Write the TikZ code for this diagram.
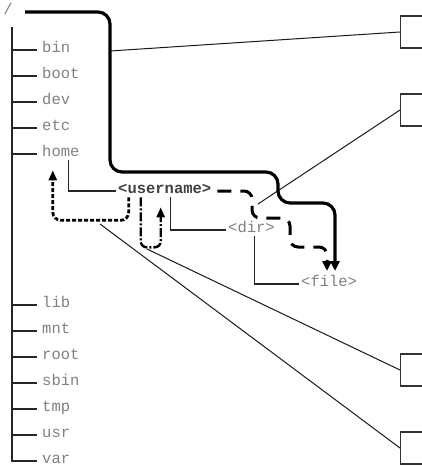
\documentclass[tikz,border=0pt]{standalone}
\usepackage{fontspec}
\newfontfamily\treefont{Liberation Mono}
\usetikzlibrary{positioning, calc, arrows.meta}
\tikzset{
  trunk/.style={draw=black!85, line width=1.8pt},
  twig/.style={draw=black!85, line width=1.3pt},
  entry/.style={font=\treefont\fontsize{15.5}{16}\selectfont, text=black!50, anchor=west, inner sep=2pt, text height=0.62em, text depth=0.2em},
  abspath/.style={-{Triangle[length=10pt, width=9pt]}, line width=3.2pt, rounded corners=12pt},
  relpath/.style={-{Triangle[length=10pt, width=9pt]}, line width=3pt, dash pattern=on 14pt off 9pt, rounded corners=8pt},
  uppath/.style={-{Triangle[length=10pt, width=8pt]}, line width=2.8pt, dash pattern=on 4pt off 2pt, rounded corners=8pt},
  herepath/.style={-{Triangle[length=10pt, width=8pt]}, line width=2.4pt, dash pattern=on 9pt off 2pt on 2pt off 2pt, rounded corners=6pt},
  callout/.style={draw=black!90, line width=1pt},
  pane/.style={draw=black!80, line width=1.3pt, minimum width=40pt, minimum height=32pt, anchor=west, inner sep=0pt}
}

\begin{document}
\begin{tikzpicture}[x=1pt, y=-1pt]
    \useasboundingbox (0,0) rectangle (422,466);
    \clip (0,0) rectangle (422,466);
    % directory tree
    \node[entry, anchor=center] (root) at (8,12) {/};
    \foreach \name [count=\i] in {bin,boot,dev,etc,home}
      \node[entry] (\name) at (40,24+26*\i) {\name};
    \foreach \name [count=\i] in {lib,mnt,root,sbin,tmp,usr,var}
      \node[entry] (\name) at (40,279+26*\i) {\name};
    \foreach \name in {bin,boot,dev,etc,home,lib,mnt,root,sbin,tmp,usr}
      \draw[twig] (12,0 |- \name.west) -- ([xshift=-3pt]\name.west);
    \draw[trunk] (12,27) |- ([xshift=-3pt]var.west);
    \node[entry, font=\treefont\bfseries\fontsize{15.5}{16}\selectfont, text=black!75] (user) at (116,191) {<username>};
    \node[entry] (dir) at (226,230) {<dir>};
    \node[entry] (file) at (299,284) {<file>};
    \draw[twig] ([xshift=8pt]home.south) |- (user.west);
    \draw[twig] ([xshift=6pt]user.south) |- (dir.west);
    \draw[twig] ([xshift=3pt]dir.south) |- (file.west);
    % panes on the right
    \node[pane] (pa) at (400,32) {};
    \node[pane] (pb) at (400,110) {};
    \node[pane] (pc) at (400,370) {};
    \node[pane] (pd) at (400,448) {};
    \coordinate (absstart) at (25,12);
    \coordinate (hit) at (335,271);
    \coordinate (hitrel) at (327,271);
    \coordinate (ca) at (110,51);
    \coordinate (cb) at (258,204);
    \coordinate (cc) at (147,249);
    \coordinate (cd) at (100,224);
    \draw[callout] (ca) -- (pa.west);
    \draw[callout] (cb) -- (pb.west);
    \draw[callout] (cc) -- (pc.west);
    \draw[callout] (cd) -- (pd.west);
    % the paths
    \draw[abspath] (absstart) -- (110,12) -- (110,172) -- (278,172) -- (278,203) -- (335,203) -- (hit);
    \draw[relpath] ([xshift=4pt]user.east) -| (252,218) -| (290,247) -| (hitrel);
    \draw[uppath] ([xshift=-36pt]user.south) -- ++(0,23) -| ([xshift=-8pt,yshift=-10pt]home.south);
    \draw[herepath] ([xshift=-24pt]user.south) -- ++(0,50) -| ([xshift=-4pt,yshift=-10pt]user.south);
\end{tikzpicture}
\end{document}
